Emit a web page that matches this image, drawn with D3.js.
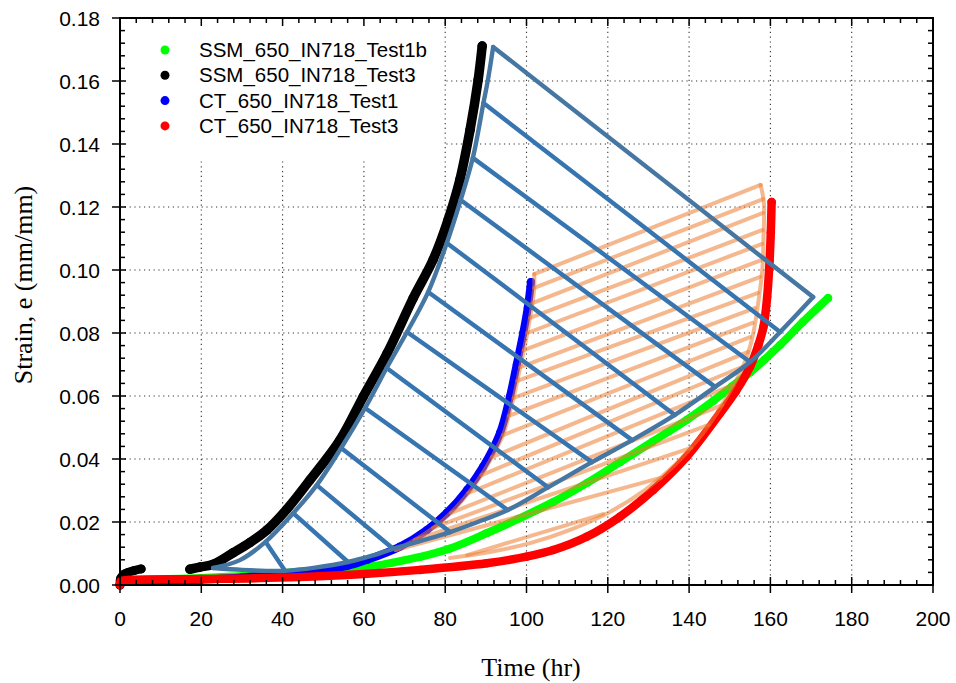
<!DOCTYPE html>
<html>
<head>
<meta charset="utf-8">
<script src="https://cdn.jsdelivr.net/npm/d3@7"></script>
<style>
  body { margin: 0; background: #fff; }
  text { fill: #000; }
</style>
</head>
<body>
<svg id="chart" width="956" height="683"></svg>
<script>
// ---- axis ticks ----
const timeTicks = [0, 20, 40, 60, 80, 100, 120, 140, 160, 180, 200];
const strainTicks = [0, 0.02, 0.04, 0.06, 0.08, 0.10, 0.12, 0.14, 0.16, 0.18];

// ---- creep curves: [time (hr), strain (mm/mm)] ----
const seriesNames = ["SSM_650_IN718_Test1b", "SSM_650_IN718_Test3", "CT_650_IN718_Test1", "CT_650_IN718_Test3"];
const seriesColors = ["#00ff00", "#000000", "#0000ff", "#ff0000"];

const ssmTest1b = [[0,0],[0.3,0.0012],[5,0.0016],[20,0.0022],[35,0.0032],[44,0.0042],[52,0.0048],[60.8,0.0057],
  [67,0.0071],[73.8,0.0089],[81,0.0115],[90.3,0.0165],[98,0.0210],[106.5,0.0263],[115,0.0325],[123,0.0390],
  [131,0.0455],[139.5,0.0525],[146,0.0585],[150.5,0.0630],[155,0.0675],[158.5,0.0715],[162.4,0.0762],
  [168,0.0835],[174.2,0.0911]];

const ssmTest3Early = [[0,0],[0.2,0.0022],[1,0.0034],[2,0.0040],[3.5,0.0046],[5.2,0.0051]];
const ssmTest3 = [[17.2,0.0050],[19.7,0.0057],[23,0.0066],[27.8,0.0102],[32,0.0135],[36.2,0.0175],[41,0.0240],
  [46.7,0.0333],[54.1,0.0460],[59.8,0.0597],[65.7,0.0735],[72.1,0.0910],[77,0.1032],[80.7,0.1159],
  [83.6,0.1286],[86.1,0.1444],[88.1,0.1603],[89.1,0.1711]];

const ctTest1 = [[0,0],[0.3,0.0008],[10,0.0012],[20,0.0017],[30,0.0024],[44.3,0.0040],[50,0.0048],[55.8,0.0060],
  [60.8,0.0080],[68.9,0.0122],[75.5,0.0175],[80.4,0.0229],[85.4,0.0302],[89.3,0.0375],[93.5,0.0483],
  [95.9,0.0597],[97.6,0.0700],[99.2,0.0800],[100.3,0.0880],[101.1,0.0962]];

const ctTest3 = [[0,0],[0.2,0.0012],[2,0.0016],[20,0.0019],[44,0.0025],[60,0.0035],[73.8,0.0048],[90.2,0.0069],
  [100,0.0090],[106.6,0.0111],[114.8,0.0153],[123,0.0217],[131.2,0.0302],[139.4,0.0407],[147.6,0.0545],
  [151.5,0.0615],[155,0.0693],[157,0.0760],[158.3,0.0820],[159.2,0.0914],[159.8,0.1030],[160.1,0.1120],
  [160.3,0.1216]];

// ---- SSM band: outline edges and cross lines ----
const ssmBandLeft = [[22.9,0.0054],[29.5,0.0079],[35.8,0.0137],[42.6,0.0228],[48.4,0.0317],[54.4,0.0435],
  [60.3,0.0562],[65.6,0.0689],[70.6,0.0803],[75.8,0.0930],[80.4,0.1086],[83.8,0.1222],[86.8,0.1356],
  [89.4,0.1530],[90.5,0.1603],[91.8,0.1708]];
const ssmBandBottom = [[22.9,0.0054],[30,0.0048],[36,0.0045],[40.6,0.0045],[48,0.0055],[56.1,0.0073],[62,0.0093],
  [67.2,0.0115],[74,0.0140],[81.2,0.0168],[88,0.0200],[95.4,0.0238],[105.3,0.0310],[116.1,0.0390],[126,0.0460],
  [136.5,0.0540],[146.4,0.0629],[155,0.0708],[162.4,0.0803],[170.5,0.0914]];
const ssmHatchFrom = [[35.8,0.0137],[42.6,0.0228],[48.4,0.0317],[54.4,0.0435],[60.3,0.0562],[65.6,0.0689],
  [70.6,0.0803],[75.8,0.0930],[80.4,0.1086],[83.8,0.1222],[86.8,0.1356],[89.4,0.1530]];
const ssmHatchTo = [[40.6,0.0045],[56.1,0.0073],[67.2,0.0115],[81.2,0.0168],[95.4,0.0238],[105.3,0.0310],
  [116.1,0.0390],[126,0.0460],[136.5,0.0540],[146.4,0.0629],[155,0.0708],[162.4,0.0803]];

// ---- CT band: outline edges and cross lines ----
const ctBandLeft = [[101.9,0.0987],[101.9,0.0943],[101.45,0.0895],[100.86,0.0848],[100.2,0.0800],[99.34,0.0746],
  [98.47,0.0692],[97.74,0.0648],[96.84,0.0594],[95.64,0.0537],[94.23,0.0476],[91.5,0.0406],[88.9,0.0349],
  [85.7,0.0292],[81.4,0.0229],[77.0,0.0181],[72.5,0.0143],[67.8,0.0111]];
const ctBandRight = [[157.6,0.1270],[158.4,0.1213],[158.3,0.1100],[158.0,0.1000],[157.0,0.0895],[155.8,0.0800],
  [154.2,0.0724],[152.0,0.0660],[148.1,0.0571],[142.7,0.0470],[136.5,0.0381],[129.2,0.0302],[120.5,0.0232],
  [110.7,0.0175],[100.9,0.0133],[91.0,0.0105],[81.2,0.0086]];
const ctHatchFrom = [[101.9,0.0943],[101.45,0.0895],[100.86,0.0848],[100.2,0.0800],[99.34,0.0746],[98.47,0.0692],
  [97.74,0.0648],[96.84,0.0594],[95.64,0.0537],[94.23,0.0476],[91.5,0.0406],[88.9,0.0349],[85.7,0.0292],
  [81.4,0.0229],[77.0,0.0181],[72.5,0.0143],[67.8,0.0111],[85.4,0.0095]];
const ctHatchTo = [[158.2,0.1225],[158.2,0.1181],[158.1,0.1127],[158.0,0.1083],[157.9,0.1032],[157.5,0.0978],
  [157.0,0.0927],[156.2,0.0879],[155.6,0.0832],[155.0,0.0787],[154.5,0.0740],[153.0,0.0692],[150.8,0.0635],
  [148.1,0.0571],[144.8,0.0508],[140.5,0.0435],[133.0,0.0340],[118.8,0.0225]];

// ---- layout ----
const svg = d3.select("#chart");
const x = d3.scaleLinear().domain([0, 200]).range([120, 933]);
const y = d3.scaleLinear().domain([0, 0.18]).range([585, 18]);
const sans = "'Liberation Sans', Arial, sans-serif";
const serif = "'Liberation Serif', 'Times New Roman', serif";

// dotted grid
const grid = svg.append("g").attr("stroke", "#333").attr("stroke-width", 1.1).attr("stroke-dasharray", "1.2,3.6");
grid.selectAll(".gx").data(timeTicks.slice(1, -1)).join("line")
  .attr("x1", d => x(d)).attr("x2", d => x(d)).attr("y1", y(0)).attr("y2", y(0.18));
grid.selectAll(".gy").data(strainTicks.slice(1, -1)).join("line")
  .attr("x1", x(0)).attr("x2", x(200)).attr("y1", d => y(d)).attr("y2", d => y(d));

// legend backdrop hides the grid behind the entries
svg.append("rect").attr("x", x(0) + 1).attr("y", y(0.18) + 1).attr("width", 323).attr("height", 139).attr("fill", "#fff");

const curve = d3.line().x(d => x(d[0])).y(d => y(d[1])).curve(d3.curveCatmullRom.alpha(0.5));
const straight = d3.line().x(d => x(d[0])).y(d => y(d[1]));

// measured curves
function drawSeries(data, color, width) {
  const g = svg.append("g");
  g.append("path").attr("d", curve(data)).attr("fill", "none").attr("stroke", color)
    .attr("stroke-width", width).attr("stroke-linecap", "round").attr("stroke-linejoin", "round");
  g.selectAll("circle").data(data).join("circle")
    .attr("cx", d => x(d[0])).attr("cy", d => y(d[1])).attr("r", width / 2).attr("fill", color);
}
drawSeries(ssmTest1b, seriesColors[0], 8);
drawSeries(ssmTest3Early, seriesColors[1], 9);
drawSeries(ssmTest3, seriesColors[1], 9.5);
drawSeries(ctTest1, seriesColors[2], 8);
drawSeries(ctTest3, seriesColors[3], 8.5);

// CT band (translucent orange)
const ct = svg.append("g").attr("fill", "none").attr("stroke", "#ed7d31").attr("stroke-opacity", 0.55)
  .attr("stroke-width", 4).attr("stroke-linecap", "round");
ct.append("path").attr("d", curve(ctBandLeft));
ct.append("path").attr("d", curve(ctBandRight));
ct.append("path").attr("d", straight([ctBandLeft[0], ctBandRight[0]]));
ct.selectAll(".h").data(d3.zip(ctHatchFrom, ctHatchTo)).join("path").attr("d", d => straight(d));

// SSM band (steel blue)
const ssm = svg.append("g").attr("fill", "none").attr("stroke-width", 4.4).attr("stroke-linecap", "round");
ssm.selectAll(".h").data(d3.zip(ssmHatchFrom, ssmHatchTo)).join("path")
  .attr("d", d => straight(d)).attr("stroke", "#3775b0");
ssm.append("path").attr("d", curve(ssmBandLeft)).attr("stroke", "#4676a2");
ssm.append("path").attr("d", curve(ssmBandBottom)).attr("stroke", "#4676a2");
ssm.append("path").attr("d", straight([ssmBandLeft[ssmBandLeft.length - 1], ssmBandBottom[ssmBandBottom.length - 1]]))
  .attr("stroke", "#4676a2").attr("stroke-linejoin", "miter");

// frame and ticks
const axes = svg.append("g").attr("stroke", "#000");
axes.append("rect").attr("x", x(0)).attr("y", y(0.18)).attr("width", x(200) - x(0)).attr("height", y(0) - y(0.18))
  .attr("fill", "none").attr("stroke-width", 2);
const minorX = d3.range(0, 201, 4).filter(v => v % 20 !== 0);
const minorY = d3.range(0, 46, 1).map(i => i * 0.004).filter(v => Math.abs(v / 0.02 - Math.round(v / 0.02)) > 1e-6);
function xTicks(vals, inLen, outLen) {
  axes.selectAll(null).data(vals).join("line").attr("stroke-width", 1.5)
    .attr("x1", d => x(d)).attr("x2", d => x(d)).attr("y1", y(0) + outLen).attr("y2", y(0) - inLen);
  axes.selectAll(null).data(vals).join("line").attr("stroke-width", 1.5)
    .attr("x1", d => x(d)).attr("x2", d => x(d)).attr("y1", y(0.18)).attr("y2", y(0.18) + inLen);
}
function yTicks(vals, inLen, outLen) {
  axes.selectAll(null).data(vals).join("line").attr("stroke-width", 1.5)
    .attr("y1", d => y(d)).attr("y2", d => y(d)).attr("x1", x(0) - outLen).attr("x2", x(0) + inLen);
  axes.selectAll(null).data(vals).join("line").attr("stroke-width", 1.5)
    .attr("y1", d => y(d)).attr("y2", d => y(d)).attr("x1", x(200)).attr("x2", x(200) - inLen);
}
xTicks(timeTicks, 8, 8);
xTicks(minorX, 5, 0);
yTicks(strainTicks, 6, 8);
yTicks(minorY, 5, 0);

// tick labels
svg.append("g").selectAll("text").data(timeTicks).join("text")
  .attr("x", d => x(d)).attr("y", 626).attr("text-anchor", "middle")
  .attr("font-family", sans).attr("font-size", 21).text(d => d);
svg.append("g").selectAll("text").data(strainTicks).join("text")
  .attr("x", 100).attr("y", d => y(d) + 7.5).attr("text-anchor", "end")
  .attr("font-family", sans).attr("font-size", 21).text(d => d3.format(".2f")(d));

// axis titles
svg.append("text").attr("x", 531).attr("y", 676).attr("text-anchor", "middle")
  .attr("font-family", serif).attr("font-size", 26).text("Time (hr)");
svg.append("text").attr("transform", "translate(32,285) rotate(-90)").attr("text-anchor", "middle")
  .attr("font-family", serif).attr("font-size", 26).text("Strain, e (mm/mm)");

// legend
const legend = svg.append("g").selectAll("g").data(seriesNames).join("g")
  .attr("transform", (d, i) => `translate(165,${50 + i * 25.3})`);
legend.append("circle").attr("r", 4.5).attr("fill", (d, i) => seriesColors[i]);
legend.append("text").attr("x", 34).attr("y", 7).attr("font-family", sans).attr("font-size", 20.5).text(d => d);
</script>
</body>
</html>
